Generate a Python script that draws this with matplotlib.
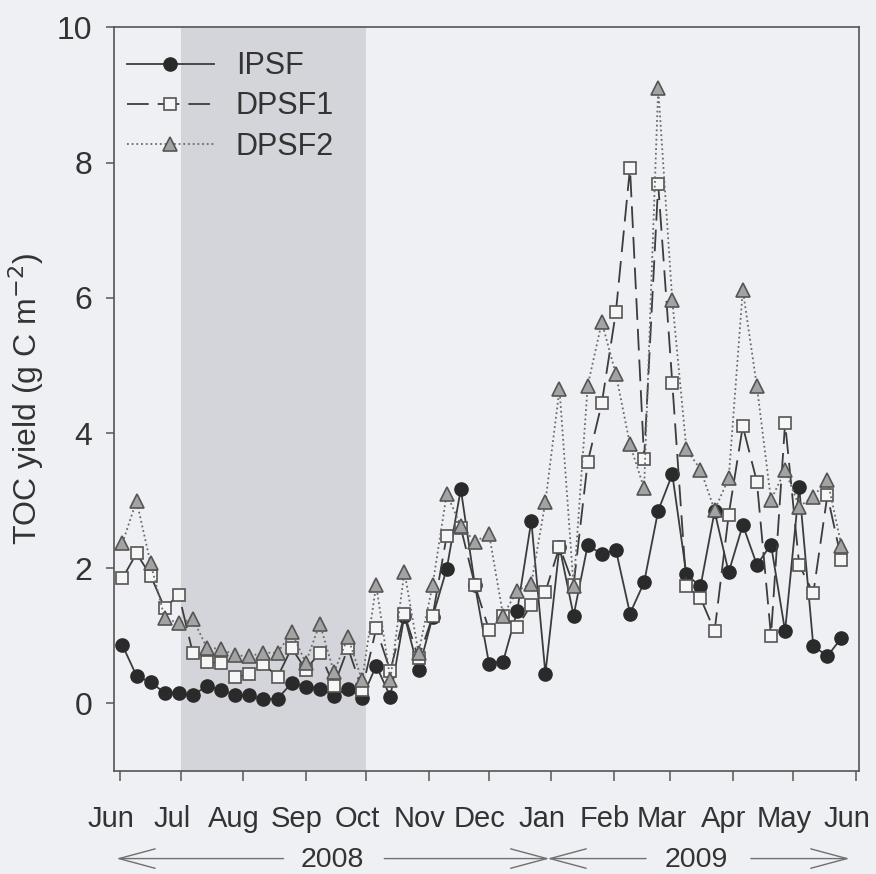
import matplotlib
matplotlib.use("Agg")
import matplotlib.pyplot as plt
import matplotlib.dates as mdates
import matplotlib.transforms as mtransforms
from datetime import datetime

# ---------------- data ----------------
dates = ["2008-06-02", "2008-06-09", "2008-06-16", "2008-06-23", "2008-06-30",
         "2008-07-07", "2008-07-14", "2008-07-21", "2008-07-28", "2008-08-04",
         "2008-08-11", "2008-08-18", "2008-08-25", "2008-09-01", "2008-09-08",
         "2008-09-15", "2008-09-22", "2008-09-29", "2008-10-06", "2008-10-13",
         "2008-10-20", "2008-10-27", "2008-11-03", "2008-11-10", "2008-11-17",
         "2008-11-24", "2008-12-01", "2008-12-08", "2008-12-15", "2008-12-22",
         "2008-12-29", "2009-01-05", "2009-01-12", "2009-01-19", "2009-01-26",
         "2009-02-02", "2009-02-09", "2009-02-16", "2009-02-23", "2009-03-02",
         "2009-03-09", "2009-03-16", "2009-03-23", "2009-03-30", "2009-04-06",
         "2009-04-13", "2009-04-20", "2009-04-27", "2009-05-04", "2009-05-11",
         "2009-05-18", "2009-05-25"]

ipsf = [0.86, 0.41, 0.31, 0.16, 0.16, 0.12, 0.26, 0.20, 0.13, 0.12,
        0.06, 0.07, 0.30, 0.25, 0.22, 0.11, 0.22, 0.08, 0.56, 0.10,
        1.30, 0.49, 1.28, 1.99, 3.17, 1.75, 0.59, 0.62, 1.37, 2.70,
        0.44, 2.32, 1.30, 2.34, 2.21, 2.27, 1.33, 1.79, 2.85, 3.39,
        1.91, 1.73, 2.84, 1.94, 2.64, 2.05, 2.35, 1.07, 3.20, 0.85,
        0.70, 0.97]

dpsf1 = [1.85, 2.22, 1.89, 1.41, 1.61, 0.74, 0.61, 0.60, 0.39, 0.43,
         0.59, 0.39, 0.82, 0.50, 0.75, 0.26, 0.82, 0.20, 1.11, 0.48,
         1.32, 0.67, 1.29, 2.48, 2.60, 1.75, 1.09, 1.29, 1.13, 1.46,
         1.65, 2.32, 1.75, 3.57, 4.44, 5.79, 7.92, 3.62, 7.68, 4.74,
         1.73, 1.56, 1.07, 2.79, 4.10, 3.28, 1.00, 4.15, 2.05, 1.63,
         3.08, 2.12]

dpsf2 = [2.37, 3.00, 2.07, 1.26, 1.19, 1.25, 0.82, 0.81, 0.71, 0.70,
         0.75, 0.75, 1.05, 0.60, 1.18, 0.46, 0.98, 0.34, 1.75, 0.35,
         1.95, 0.75, 1.75, 3.10, 2.63, 2.39, 2.51, 1.30, 1.67, 1.77,
         2.98, 4.65, 1.73, 4.70, 5.64, 4.87, 3.83, 3.18, 9.10, 5.96,
         3.76, 3.46, 2.86, 3.33, 6.12, 4.69, 3.01, 3.45, 2.91, 3.06,
         3.31, 2.33]

month_ticks = ["2008-06-01", "2008-07-01", "2008-08-01", "2008-09-01", "2008-10-01",
               "2008-11-01", "2008-12-01", "2009-01-01", "2009-02-01", "2009-03-01",
               "2009-04-01", "2009-05-01", "2009-06-01"]
month_labels = ["Jun", "Jul", "Aug", "Sep", "Oct", "Nov", "Dec", "Jan", "Feb",
                "Mar", "Apr", "May", "Jun"]
y_ticks = [0, 2, 4, 6, 8, 10]
shade_start, shade_end = "2008-07-01", "2008-10-01"

years = ["2008", "2009"]
year_centers = ["2008-09-14", "2009-03-14"]
year_spans = [("2008-05-30", "2008-08-21", "2008-10-10", "2008-12-31"),
              ("2008-12-30", "2009-02-17", "2009-04-10", "2009-05-29")]

# ---------------- plotting ----------------
plt.rcParams['font.family'] = ['Liberation Sans', 'DejaVu Sans']

bg = "#eef0f4"
tc = "#333333"
fig = plt.figure(figsize=(8.76, 8.74), dpi=100, facecolor=bg)
ax = fig.add_axes([0.1301, 0.1178, 0.8505, 0.8509], facecolor=bg)

d = lambda s: datetime.strptime(s, "%Y-%m-%d")
n = lambda s: mdates.date2num(d(s))
x = [d(s) for s in dates]

ax.axvspan(d(shade_start), d(shade_end), color="#d4d5da", lw=0, zorder=0)

lc = "#3c3c3c"
ax.plot(x, ipsf, '-', color=lc, lw=1.3, marker='o', ms=9.5,
        mfc="#2a2a2a", mec="#2a2a2a", label="IPSF", zorder=3)
ax.plot(x, dpsf1, color=lc, lw=1.3, dashes=(12, 5), marker='s', ms=9.2,
        mfc="#f6f6f6", mec="#555555", mew=1.2, label="DPSF1", zorder=4)
ax.plot(x, dpsf2, color="#6a6a6a", lw=1.3, dashes=(1, 1.6), marker='^', ms=9.8,
        mfc="#a3a3a3", mec="#555555", mew=1.2, label="DPSF2", zorder=5)

ax.set_xlim(n("2008-06-01") - 3.2, n("2009-06-01") + 1.7)
ax.set_ylim(-1, 10)
ax.set_xticks([d(s) for s in month_ticks])
ax.set_xticklabels(month_labels)
ax.set_yticks(y_ticks)
ax.tick_params(axis='x', direction='out', length=7.5, width=1.1, color="#555555",
               labelsize=21, labelcolor=tc, pad=17)
ax.tick_params(axis='y', direction='out', length=5.5, width=1.1, color="#555555",
               labelsize=23, labelcolor=tc, pad=10)
off = mtransforms.ScaledTranslation(-9 / 100, 0, fig.dpi_scale_trans)
for lab in ax.get_xticklabels():
    lab.set_transform(lab.get_transform() + off)
for s in ax.spines.values():
    s.set_color("#555555")
    s.set_linewidth(1.2)

ax.set_ylabel("TOC yield (g C m$^{-2}$)", fontsize=23, color=tc)
ax.yaxis.set_label_coords(-0.091, 0.5)

leg = ax.legend(loc='upper left', bbox_to_anchor=(0.0, 0.985), frameon=False,
                fontsize=22, handlelength=2.85, handletextpad=0.72,
                labelspacing=0.33, borderpad=0.2, borderaxespad=0.22)
for t in leg.get_texts():
    t.set_color(tc)

# year annotations
trans = ax.get_xaxis_transform()
ya = -0.1177
ac = "#707070"
def arrow(x_from, x_to):
    ax.annotate("", xy=(x_to, ya), xytext=(x_from, ya), xycoords=trans, textcoords=trans,
                arrowprops=dict(arrowstyle="->,head_length=2.6,head_width=0.7",
                                mutation_scale=10, color=ac, lw=1.0,
                                shrinkA=0, shrinkB=0),
                annotation_clip=False)
for yr, c, (a0, a1, b0, b1) in zip(years, year_centers, year_spans):
    arrow(n(a1), n(a0))
    arrow(n(b0), n(b1))
    ax.text(n(c), -0.1297, yr, transform=trans, ha='center', va='baseline',
            fontsize=20.5, color=tc)

fig.savefig("out.png", dpi=100, facecolor=bg)
